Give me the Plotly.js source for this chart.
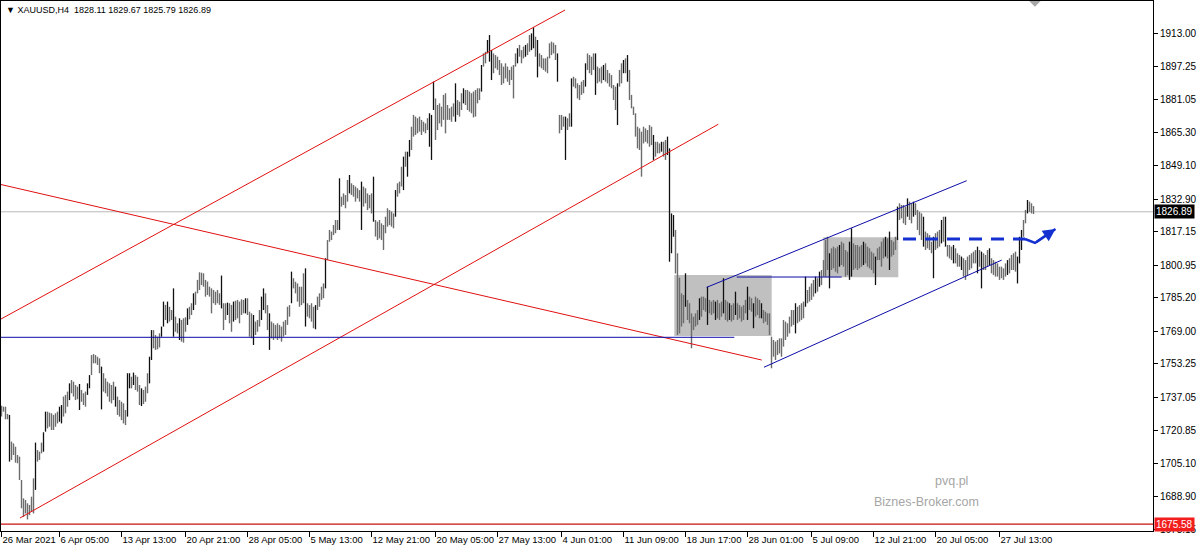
<!DOCTYPE html>
<html><head><meta charset="utf-8">
<script src="https://cdn.plot.ly/plotly-3.0.1.min.js"></script>
<style>html,body{margin:0;padding:0;background:#fff;}#chart{width:1200px;height:552px;}</style>
</head><body><div id="chart"></div>
<script>
// XAUUSD H4 bars (high / low), oldest first
const high = [
1733.0,1732.5,1732.5,1729.0,1728.5,1715.6,1714.7,1713.1,1709.1,1708.3,
1697.0,1688.1,1687.3,1685.7,1684.9,1688.9,1697.8,1715.1,1711.5,1710.7,
1715.1,1720.1,1730.1,1730.1,1729.6,1729.3,1728.5,1729.3,1730.1,1732.5,
1733.3,1737.4,1738.2,1739.8,1743.8,1745.4,1744.6,1743.0,1742.2,1743.5,
1740.6,1739.0,1739.8,1743.8,1747.8,1757.5,1758.0,1757.5,1756.7,1755.9,
1751.9,1748.7,1746.2,1744.6,1743.8,1743.0,1744.6,1742.2,1737.4,1735.7,
1734.9,1734.1,1730.9,1748.7,1748.7,1747.0,1749.0,1747.8,1747.0,1743.0,
1741.4,1740.6,1742.2,1748.7,1756.7,1769.6,1769.6,1767.2,1766.4,1768.0,
1771.3,1783.4,1781.8,1783.4,1780.9,1779.3,1789.8,1776.1,1772.9,1775.3,
1774.5,1775.3,1775.8,1780.1,1780.9,1782.6,1787.4,1788.2,1793.9,1797.6,
1797.4,1797.1,1793.9,1793.1,1790.6,1789.8,1789.0,1788.2,1789.0,1787.4,
1796.0,1782.6,1782.6,1782.9,1782.6,1781.8,1783.4,1783.8,1784.2,1783.4,
1784.5,1784.2,1785.0,1785.0,1778.5,1777.7,1776.9,1773.7,1774.5,1779.3,
1785.8,1789.8,1787.4,1781.7,1777.7,1773.7,1772.9,1772.1,1772.9,1772.1,
1771.3,1773.7,1774.5,1780.9,1781.7,1797.9,1794.7,1793.0,1792.2,1790.6,
1790.6,1797.1,1799.5,1782.6,1781.7,1782.6,1780.9,1781.7,1785.8,1787.4,
1790.6,1792.2,1804.4,1813.2,1818.1,1817.3,1820.5,1822.9,1822.9,1843.1,
1834.2,1835.8,1835.0,1842.3,1844.7,1840.7,1839.9,1839.1,1838.3,1837.4,
1841.5,1839.1,1838.3,1835.8,1835.0,1835.8,1843.9,1822.9,1822.1,1822.9,
1821.3,1820.5,1824.5,1828.6,1827.7,1827.0,1826.1,1837.4,1840.7,1841.5,
1848.7,1853.6,1856.0,1856.0,1861.7,1868.1,1873.8,1873.0,1872.2,1873.0,
1871.4,1870.5,1869.7,1872.2,1874.6,1873.8,1889.9,1881.8,1878.6,1879.4,
1877.8,1883.5,1884.3,1878.6,1877.0,1877.8,1879.4,1889.1,1881.0,1880.2,
1884.3,1886.7,1885.9,1885.9,1885.1,1884.3,1885.1,1885.9,1886.7,1886.7,
1898.0,1903.6,1904.4,1910.1,1912.5,1905.2,1903.6,1902.8,1902.0,1900.4,
1898.8,1897.2,1898.8,1897.2,1895.6,1897.2,1898.0,1903.6,1906.1,1907.7,
1905.2,1906.9,1907.7,1908.5,1912.5,1913.3,1916.2,1911.7,1910.1,1903.6,
1902.8,1901.2,1901.2,1902.0,1908.5,1909.3,1908.8,1907.7,1903.6,1873.8,
1873.8,1873.0,1873.0,1872.2,1874.6,1891.5,1892.3,1891.5,1889.1,1888.3,
1889.9,1890.7,1898.8,1903.6,1902.8,1902.0,1903.6,1903.6,1897.2,1896.4,
1897.2,1898.0,1898.8,1895.6,1894.0,1893.1,1888.3,1887.5,1889.1,1895.6,
1898.8,1900.4,1901.2,1902.8,1895.6,1883.5,1877.8,1874.6,1868.1,1867.3,
1865.7,1868.1,1867.3,1866.5,1868.9,1868.1,1864.1,1860.8,1860.8,1860.0,
1860.8,1860.8,1861.7,1863.3,1857.6,1826.1,1825.3,1818.1,1806.8,1795.0,
1787.4,1786.6,1797.1,1784.2,1782.6,1777.7,1776.1,1777.7,1779.3,1785.0,
1785.8,1785.8,1785.0,1790.6,1784.2,1783.4,1784.2,1783.4,1784.2,1782.6,
1783.4,1794.7,1784.2,1783.4,1782.6,1781.7,1782.6,1788.2,1782.6,1781.7,
1780.9,1781.7,1784.2,1790.6,1785.8,1785.0,1782.6,1785.8,1785.0,1784.2,
1782.6,1779.3,1778.5,1777.7,1777.7,1766.4,1764.8,1764.0,1764.8,1765.6,
1765.6,1774.5,1773.7,1772.9,1776.1,1779.3,1779.3,1782.6,1780.9,1781.7,
1782.6,1783.4,1795.5,1789.0,1790.6,1792.2,1793.9,1795.5,1794.7,1797.9,
1798.7,1803.5,1813.2,1814.8,1806.8,1809.2,1810.0,1809.2,1810.0,1810.8,
1812.4,1811.6,1808.4,1807.6,1812.4,1818.9,1811.6,1810.8,1810.8,1810.0,
1810.8,1812.4,1811.6,1810.0,1809.2,1807.6,1806.8,1805.2,1809.2,1810.0,
1812.4,1814.0,1814.8,1814.0,1817.3,1813.2,1812.4,1814.8,1829.4,1831.0,
1830.2,1830.2,1829.4,1833.4,1831.8,1831.0,1831.8,1831.0,1827.8,1826.9,
1826.1,1824.5,1817.3,1816.5,1815.6,1812.4,1814.8,1816.5,1817.3,1818.1,
1822.9,1824.5,1824.5,1810.8,1810.8,1810.0,1810.8,1809.2,1806.8,1806.0,
1805.2,1804.4,1803.5,1805.2,1806.0,1806.8,1807.6,1808.4,1810.0,1808.4,
1807.6,1806.8,1806.0,1808.4,1809.2,1804.4,1803.5,1802.7,1801.9,1800.3,
1800.3,1799.5,1801.9,1803.5,1804.4,1806.0,1806.8,1807.6,1805.2,1814.8,
1818.1,1822.9,1827.8,1832.6,1831.8,1831.0,1829.67
];
const low = [
1727.7,1730.1,1726.4,1726.4,1705.9,1706.7,1709.1,1705.4,1705.1,1697.0,
1683.3,1679.2,1680.8,1677.9,1680.0,1681.6,1680.8,1692.2,1705.9,1706.7,
1709.9,1710.7,1720.4,1722.0,1722.8,1721.2,1721.2,1722.8,1724.4,1725.2,
1724.4,1727.7,1729.3,1732.5,1735.7,1739.0,1737.4,1735.7,1736.1,1730.9,
1734.9,1733.3,1732.5,1738.2,1741.4,1747.8,1753.5,1753.5,1752.7,1748.7,
1731.2,1739.8,1739.0,1737.4,1734.9,1734.1,1735.7,1732.5,1728.5,1727.7,
1726.0,1724.4,1723.6,1727.7,1741.4,1741.4,1743.0,1740.6,1739.8,1733.3,
1732.8,1733.8,1734.9,1739.0,1743.8,1755.1,1760.8,1760.0,1760.3,1761.2,
1766.4,1771.3,1774.5,1772.9,1773.7,1774.5,1766.4,1768.8,1768.0,1764.8,
1764.0,1763.5,1768.8,1772.1,1774.8,1776.9,1779.3,1781.8,1787.4,1789.0,
1791.4,1790.6,1785.8,1786.6,1785.8,1777.7,1782.6,1781.8,1782.6,1781.8,
1780.1,1769.6,1774.5,1776.9,1772.9,1768.8,1773.7,1774.5,1775.3,1772.9,
1776.9,1777.7,1777.7,1776.9,1766.4,1765.6,1762.4,1767.2,1768.8,1771.3,
1774.5,1779.3,1777.7,1769.6,1760.0,1765.6,1764.8,1765.6,1764.8,1765.6,
1764.0,1766.4,1767.2,1772.1,1776.1,1782.6,1789.8,1787.4,1783.4,1780.9,
1781.7,1782.6,1771.3,1776.1,1775.3,1773.7,1770.5,1770.0,1779.3,1780.9,
1784.2,1785.0,1789.8,1803.5,1812.4,1813.2,1815.6,1816.5,1818.1,1818.1,
1829.4,1830.2,1828.6,1831.8,1835.8,1835.0,1834.2,1831.8,1833.4,1831.8,
1818.1,1829.4,1831.0,1827.7,1828.6,1826.1,1822.1,1814.9,1813.2,1814.0,
1813.2,1808.4,1816.5,1819.7,1820.5,1819.7,1818.9,1824.5,1834.2,1835.8,
1839.1,1837.4,1848.7,1843.9,1853.6,1856.8,1863.3,1864.1,1864.9,1865.7,
1864.1,1865.7,1864.9,1866.5,1858.4,1852.0,1876.2,1861.7,1866.5,1869.7,
1868.1,1871.4,1864.9,1871.4,1871.4,1870.5,1873.0,1870.5,1873.8,1873.0,
1876.2,1879.4,1878.6,1876.2,1875.4,1874.6,1872.6,1873.0,1879.4,1881.0,
1885.1,1897.2,1898.8,1903.6,1899.6,1890.7,1894.0,1896.4,1895.6,1893.1,
1888.3,1889.1,1891.5,1889.9,1888.3,1890.7,1881.8,1897.2,1898.8,1902.0,
1898.8,1901.2,1902.0,1902.8,1904.4,1905.2,1906.1,1902.0,1892.0,1897.2,
1896.4,1895.6,1894.8,1894.0,1901.2,1902.8,1903.6,1900.4,1889.9,1864.9,
1866.5,1868.1,1852.0,1866.5,1868.1,1868.1,1887.5,1886.7,1881.8,1881.0,
1883.5,1884.3,1887.5,1895.6,1894.0,1893.1,1895.6,1883.5,1889.1,1889.9,
1889.1,1890.7,1889.9,1889.1,1887.5,1886.7,1881.0,1876.2,1868.9,1887.5,
1889.1,1894.0,1894.0,1889.9,1881.0,1877.0,1873.8,1863.3,1857.6,1856.8,
1843.9,1860.0,1860.8,1860.0,1858.4,1859.2,1852.0,1853.6,1855.2,1855.2,
1856.0,1853.6,1852.0,1854.4,1802.7,1806.8,1814.8,1797.0,1767.2,1768.0,
1771.3,1772.9,1780.9,1774.5,1772.9,1760.8,1769.6,1771.3,1772.1,1774.5,
1776.1,1779.3,1778.5,1772.1,1777.7,1776.9,1777.7,1774.5,1775.3,1774.5,
1776.1,1777.7,1774.5,1773.7,1774.5,1773.7,1774.5,1776.9,1774.5,1775.3,
1773.7,1774.5,1777.7,1774.5,1779.3,1778.5,1770.5,1776.1,1776.9,1775.3,
1775.3,1772.9,1773.7,1772.1,1767.2,1751.1,1756.7,1755.1,1757.5,1758.3,
1756.7,1761.6,1764.8,1766.4,1768.0,1771.3,1772.1,1768.0,1772.9,1773.7,
1774.5,1775.3,1780.9,1782.6,1783.4,1784.2,1785.8,1787.4,1788.2,1790.6,
1791.4,1795.5,1795.5,1798.7,1789.8,1798.7,1799.5,1797.9,1797.1,1800.3,
1801.1,1800.3,1795.5,1796.3,1793.9,1795.5,1798.7,1799.5,1798.7,1799.5,
1800.3,1801.1,1801.9,1800.3,1799.5,1798.7,1797.1,1791.4,1803.5,1803.5,
1800.3,1804.3,1805.2,1804.3,1798.7,1805.2,1806.0,1808.4,1813.2,1822.9,
1823.7,1821.3,1820.5,1824.5,1822.9,1821.3,1824.5,1825.3,1818.1,1815.6,
1813.2,1810.0,1808.4,1809.2,1808.4,1806.8,1794.7,1808.4,1809.2,1810.0,
1811.6,1812.4,1810.0,1805.2,1804.3,1803.5,1801.9,1801.9,1800.3,1800.3,
1798.7,1795.5,1793.9,1796.3,1798.7,1799.5,1801.9,1801.9,1797.1,1800.3,
1789.8,1798.7,1798.7,1800.3,1801.1,1797.1,1796.3,1795.5,1795.5,1793.9,
1794.7,1793.9,1795.5,1796.3,1797.1,1798.7,1798.7,1797.9,1792.2,1801.9,
1808.4,1814.8,1821.3,1826.1,1826.9,1826.1,1825.79
];
// bars that are drawn in black (the rest are grey)
const darkBars = [4,17,21,22,29,30,34,39,43,44,50,57,63,64,66,70,74,75,80,81,83,86,89,93,96,110,113,116,122,126,
130,131,134,145,152,157,162,169,174,180,186,197,201,203,204,214,215,216,227,231,240,243,244,245,258,262,265,266,268,
278,282,285,292,297,301,308,311,313,326,330,333,334,335,336,342,349,353,357,361,364,367,373,376,380,397,402,407,409,
414,419,424,425,431,437,442,444,448,453,456,461,466,470,472,476,480,488,490,494,503,508,509,510,513];

const symbolText = 'XAUUSD,H4';
const lastBarOHLC = [1828.11, 1829.67, 1825.79, 1826.89];
const bidPrice = 1826.89;
const redLevel = 1675.58;

const priceTicks = [1913.00,1897.25,1881.05,1865.30,1849.10,1832.90,1817.15,1800.95,1785.20,1769.00,1753.25,1737.05,1720.85,1705.10,1688.90,1673.15];
const timeLabels = ['26 Mar 2021','6 Apr 05:00','13 Apr 13:00','20 Apr 21:00','28 Apr 05:00','5 May 13:00','12 May 21:00','20 May 05:00','27 May 13:00','4 Jun 01:00','11 Jun 09:00','18 Jun 17:00','28 Jun 01:00','5 Jul 09:00','12 Jul 21:00','20 Jul 05:00','27 Jul 13:00'];
const timeLabelBars = [0,29,60,92,123,154,185,217,248,280,311,342,373,405,436,467,499];

// drawn objects: [bar0, price0, bar1, price1]
const redLines = [
  [-0.75, 1774.7, 281.75, 1924.6],
  [9.25, 1678.6, 358.4, 1869.3],
  [-0.75, 1840.2, 380.1, 1755.1]
];
const blueLines = [
  [-0.75, 1766.1, 366.4, 1766.1],
  [367.6, 1795.3, 420.1, 1795.3],
  [352.6, 1790.3, 482.6, 1841.95],
  [381.25, 1751.6, 500.1, 1803.5]
];
const boxes = [
  [336.4, 1766.7, 385.1, 1796.3],
  [410.9, 1795.2, 448.4, 1814.5]
];
const dashedLevel = [450.75, 1813.7, 511.75, 1813.7];
const arrowPath = [[511.75, 1813.7],[516.75, 1811.8],[527.0, 1818.6]];

const darkSet = new Set(darkBars);
function segs(dark){
  const x=[], y=[];
  for(let i=0;i<high.length;i++){
    if(darkSet.has(i)!==dark) continue;
    x.push(i,i,null); y.push(low[i],high[i],null);
  }
  return {x,y};
}
const g = segs(false), d = segs(true);
const traces = [
  {type:'scatter', mode:'lines', x:g.x, y:g.y, line:{color:'#6c6c6c', width:1.4}, hoverinfo:'skip', connectgaps:false},
  {type:'scatter', mode:'lines', x:d.x, y:d.y, line:{color:'#101010', width:1.3}, hoverinfo:'skip', connectgaps:false}
];

const shapes = [];
boxes.forEach(b=>shapes.push({type:'rect', xref:'x', yref:'y', x0:b[0], y0:b[1], x1:b[2], y1:b[3], fillcolor:'#c0c0c0', line:{width:0}, layer:'below'}));
shapes.push({type:'line', xref:'paper', yref:'y', x0:0, x1:1, y0:bidPrice, y1:bidPrice, line:{color:'#b8b8b8', width:1}, layer:'below'});
shapes.push({type:'line', xref:'paper', yref:'y', x0:0, x1:1, y0:redLevel, y1:redLevel, line:{color:'#c81010', width:1.2}});
redLines.forEach(l=>shapes.push({type:'line', xref:'x', yref:'y', x0:l[0], y0:l[1], x1:l[2], y1:l[3], line:{color:'#e01010', width:1}}));
blueLines.forEach(l=>shapes.push({type:'line', xref:'x', yref:'y', x0:l[0], y0:l[1], x1:l[2], y1:l[3], line:{color:'#0c0ca8', width:1}}));
shapes.push({type:'line', xref:'x', yref:'y', x0:dashedLevel[0], y0:dashedLevel[1], x1:dashedLevel[2], y1:dashedLevel[3], line:{color:'#1530d0', width:3, dash:'13px,9px'}});
shapes.push({type:'path', xref:'x', yref:'y', path:'M '+arrowPath.map(p=>p[0]+','+p[1]).join(' L '), line:{color:'#1530d0', width:2.5}});
// chart-shift marker at top
shapes.push({type:'path', xref:'paper', yref:'paper', path:'M 0.8925,1 L 0.9025,1 L 0.8975,0.989 Z', fillcolor:'#a8a8a8', line:{width:0}});

const font = 'Liberation Sans, Arial, sans-serif';
const annotations = [
  {xref:'paper', yref:'paper', x:0, y:1, xanchor:'left', yanchor:'top', xshift:3, yshift:-2, showarrow:false,
   text:'▼ '+symbolText+'  '+lastBarOHLC.map(v=>v.toFixed(2)).join(' '), font:{family:font, size:9, color:'#000'}},
  {xref:'paper', yref:'y', x:1, y:bidPrice, xanchor:'left', yanchor:'middle', xshift:1, showarrow:false,
   text:bidPrice.toFixed(2), bgcolor:'#000', borderpad:1, font:{family:font, size:10, color:'#fff'}},
  {xref:'paper', yref:'y', x:1, y:redLevel, xanchor:'left', yanchor:'middle', xshift:1, showarrow:false,
   text:redLevel.toFixed(2), bgcolor:'#f21d1d', borderpad:1, font:{family:font, size:10, color:'#fff'}},
  {xref:'x', yref:'y', x:arrowPath[2][0], y:arrowPath[2][1], ax:arrowPath[1][0], ay:arrowPath[1][1], axref:'x', ayref:'y',
   showarrow:true, arrowhead:2, arrowsize:1, arrowwidth:2.5, arrowcolor:'#1530d0', text:''},
  {xref:'paper', yref:'paper', x:0.8247, y:0.0943, xanchor:'center', yanchor:'middle', showarrow:false, text:'pvq.pl', font:{family:font, size:12.5, color:'#a6a6a6'}},
  {xref:'paper', yref:'paper', x:0.8030, y:0.0547, xanchor:'center', yanchor:'middle', showarrow:false, text:'Biznes-Broker.com', font:{family:font, size:12.5, color:'#a6a6a6'}}
];

const layout = {
  width:1200, height:552,
  margin:{l:1, r:47, t:1, b:21, pad:0},
  paper_bgcolor:'#fff', plot_bgcolor:'#fff',
  showlegend:false,
  xaxis:{range:[-0.25, 575.75], showgrid:false, zeroline:false, showline:true, mirror:true, linecolor:'#000', linewidth:1,
    ticks:'outside', ticklen:5, tickcolor:'#000', tickwidth:1, tickvals:timeLabelBars, ticktext:timeLabels, tickangle:0,
    ticklabelposition:'outside right', tickfont:{family:font, size:9.5, color:'#000'}, fixedrange:true},
  yaxis:{side:'right', range:[1672.29, 1928.98], showgrid:false, zeroline:false, showline:true, mirror:true, linecolor:'#000', linewidth:1,
    ticks:'outside', ticklen:4, tickcolor:'#000', tickvals:priceTicks, ticktext:priceTicks.map(v=>v.toFixed(2)),
    tickfont:{family:font, size:10, color:'#000'}, fixedrange:true},
  shapes:shapes, annotations:annotations
};
Plotly.newPlot('chart', traces, layout, {staticPlot:true, displayModeBar:false});
</script></body></html>
